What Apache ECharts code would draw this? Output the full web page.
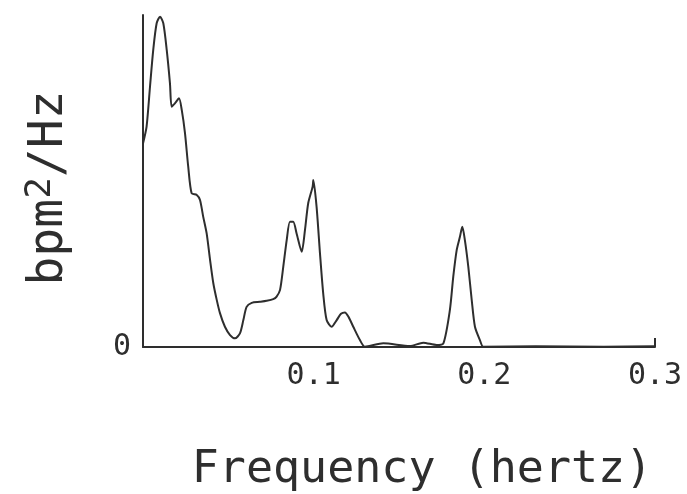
<!DOCTYPE html>
<html>
<head>
<meta charset="utf-8">
<script src="https://cdn.jsdelivr.net/npm/echarts@6/dist/echarts.min.js"></script>
<style>
  html, body { margin: 0; padding: 0; background: #fff; }
  #chart { width: 687px; height: 494px; }
</style>
</head>
<body>
<div id="chart"></div>
<script>
// Heart-rate variability power spectrum (arbitrary power units)
const frequency = [
  0.0000, 0.0021, 0.0041, 0.0060, 0.0080, 0.0100, 0.0119, 0.0139, 0.0158, 0.0168,
  0.0187, 0.0211, 0.0227, 0.0246, 0.0265, 0.0285, 0.0315, 0.0334, 0.0353, 0.0373,
  0.0393, 0.0412, 0.0432, 0.0451, 0.0480, 0.0510, 0.0539, 0.0568, 0.0588, 0.0607,
  0.0637, 0.0685, 0.0725, 0.0763, 0.0783, 0.0803, 0.0822, 0.0842, 0.0861, 0.0880,
  0.0900, 0.0930, 0.0949, 0.0968, 0.0994, 0.0998, 0.1017, 0.1037, 0.1056, 0.1076,
  0.1105, 0.1135, 0.1160, 0.1183, 0.1205, 0.1232, 0.1271, 0.1300, 0.1408, 0.1564,
  0.1642, 0.1720, 0.1760, 0.1798, 0.1818, 0.1838, 0.1857, 0.1871, 0.1886, 0.1906,
  0.1926, 0.1945, 0.1974, 0.1994, 0.2300, 0.2700, 0.3000
];
const power = [
  61.3, 66.4, 78.4, 89.5, 97.5, 99.5, 97.5, 89.5, 79.4, 72.4,
  73.4, 74.9, 71.4, 64.4, 54.3, 46.3, 45.8, 44.3, 39.2, 34.2,
  26.2, 19.2, 14.2, 10.2, 6.1, 3.6, 2.6, 4.1, 8.1, 12.1,
  13.3, 13.6, 13.9, 14.4, 15.2, 17.2, 24.2, 32.2, 37.7, 37.7,
  34.2, 28.7, 35.2, 43.3, 48.3, 50.3, 42.3, 28.2, 16.1, 8.1,
  6.1, 8.1, 10.0, 10.4, 9.0, 6.1, 2.1, 0.1, 1.1, 0.3,
  1.3, 0.6, 1.1, 11.1, 21.2, 29.2, 33.2, 36.2, 32.2, 24.2,
  14.2, 6.1, 2.1, 0.1, 0.2, 0.1, 0.2
];
const xTickValues = [0.1, 0.2, 0.3];
const yTickLabel = '0';
const xTitle = 'Frequency (hertz)';

const ink = '#2e2e2e';
const mono = '"DejaVu Sans Mono", "Liberation Mono", monospace';

const chart = echarts.init(document.getElementById('chart'));
chart.setOption({
  backgroundColor: '#ffffff',
  animation: false,
  grid: { left: 143, right: 32, top: 15, bottom: 147, outerBoundsMode: 'none', containLabel: false },
  xAxis: {
    type: 'value',
    min: 0,
    max: 0.3,
    interval: 0.1,
    splitLine: { show: false },
    axisLine: { lineStyle: { color: ink, width: 2 } },
    axisTick: { show: true, inside: true, length: 9, customValues: [0.3],
                lineStyle: { color: ink, width: 2 } },
    axisLabel: {
      customValues: xTickValues,
      formatter: v => v.toFixed(1),
      color: ink, fontFamily: mono, fontSize: 30, margin: 14
    },
    name: xTitle,
    nameLocation: 'middle',
    nameGap: 101,
    nameTextStyle: { color: ink, fontFamily: mono, fontSize: 45, padding: [0, 0, 0, 46] }
  },
  yAxis: {
    type: 'value',
    min: 0,
    max: 100,
    interval: 100,
    splitLine: { show: false },
    axisLine: { show: true, lineStyle: { color: ink, width: 2 } },
    axisTick: { show: false },
    axisLabel: {
      formatter: v => (v === 0 ? yTickLabel : ''),
      color: ink, fontFamily: mono, fontSize: 30, margin: 12
    },
    name: '{b|bpm}{s|2}{b|/Hz}',
    nameLocation: 'middle',
    nameGap: 66,
    nameRotate: 90,
    nameTextStyle: {
      color: ink,
      fontFamily: mono,
      padding: [0, 14, 0, 0],
      rich: {
        b: { fontFamily: mono, fontSize: 48, color: ink, lineHeight: 54 },
        s: { fontFamily: mono, fontSize: 36, color: ink, lineHeight: 54,
             verticalAlign: 'top', padding: [0, 0, 14, 0] }
      }
    }
  },
  series: [{
    type: 'line',
    data: frequency.map((f, i) => [f, power[i]]),
    smooth: 0.25,
    showSymbol: false,
    clip: true,
    lineStyle: { color: ink, width: 2 }
  }]
});
</script>
</body>
</html>
